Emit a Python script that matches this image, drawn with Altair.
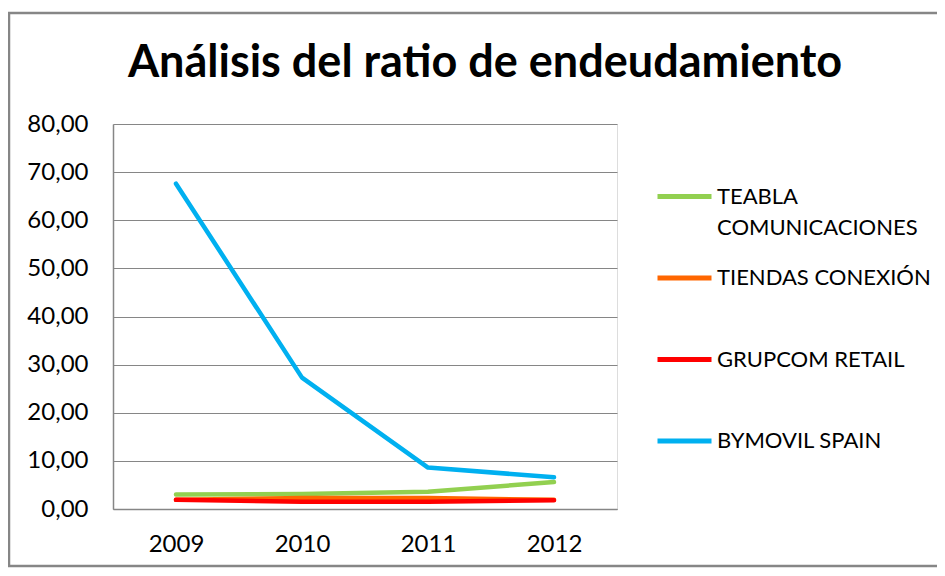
import altair as alt
import pandas as pd

title_text = "Análisis del ratio de endeudamiento"
years = ["2009", "2010", "2011", "2012"]
series = ["TEABLA COMUNICACIONES", "TIENDAS CONEXIÓN", "GRUPCOM RETAIL", "BYMOVIL SPAIN"]
teabla = [3.0, 3.1, 3.6, 5.6]
tiendas = [1.9, 2.3, 2.3, 1.9]
grupcom = [1.9, 1.5, 1.5, 1.8]
bymovil = [67.6, 27.3, 8.6, 6.6]
colors = ["#92D050", "#FF6600", "#FF0000", "#00B0F0"]

rows = []
for name, vals in zip(series, [teabla, tiendas, grupcom, bymovil]):
    for y, v in zip(years, vals):
        rows.append({"year": y, "value": v, "serie": name, "ord": series.index(name)})
df = pd.DataFrame(rows)

FONT = "Lato"

lines = alt.Chart(df).mark_line(strokeWidth=4.5, strokeCap="round", strokeJoin="round").encode(
    x=alt.X("year:O", scale=alt.Scale(type="point", padding=0.5),
            axis=alt.Axis(title=None, labelAngle=0, labelFontSize=24, labelFont=FONT,
                          labelColor="#000000", labelPadding=23, ticks=False,
                          domainColor="#868686", domainWidth=1.5)),
    y=alt.Y("value:Q", scale=alt.Scale(domain=[0, 80]),
            axis=alt.Axis(title=None, values=list(range(0, 81, 10)), labelFontSize=24,
                          labelFont=FONT, labelColor="#000000", labelPadding=25, ticks=False,
                          labelExpr="replace(format(datum.value, '.2f'), '.', ',')",
                          gridColor="#868686", gridWidth=1.2, domainColor="#868686",
                          domainWidth=1.5)),
    color=alt.Color("serie:N", scale=alt.Scale(domain=series, range=colors),
                    legend=alt.Legend(title=None, orient="none", legendX=542, legendY=43,
                                      symbolType="stroke", symbolSize=2916,
                                      symbolStrokeWidth=5, labelFontSize=22, labelFont=FONT,
                                      labelColor="#000000", rowPadding=9.5, labelOffset=3,
                                      labelLimit=400,
                                      labelExpr="datum.label == 'TEABLA COMUNICACIONES' ? ['TEABLA', 'COMUNICACIONES'] : [datum.label, '']")),
    order=alt.Order("ord:Q"),
    detail="serie:N",
)

border = alt.Chart(pd.DataFrame({"a": [0]})).mark_rect(
    fill=None, stroke="#868686", strokeWidth=2.5, clip=False
).encode(x=alt.value(-104), x2=alt.value(860), y=alt.value(-111), y2=alt.value(442))

title = alt.Chart(pd.DataFrame({"t": [title_text]})).mark_text(
    font=FONT, fontSize=45, fontWeight="bold", color="#000000",
    align="center", baseline="alphabetic", clip=False
).encode(text="t:N", x=alt.value(372), y=alt.value(-47))

chart = alt.layer(border, lines, title).properties(
    width=504, height=385,
    autosize=alt.AutoSizeParams(type="none"),
    padding={"left": 105, "top": 116, "right": 320, "bottom": 59},
).configure_view(stroke=None).configure(
    background="white",
    style={"guide-label": {"lineHeight": 31}},
)

chart.save("out.html", embed_options={"renderer": "svg", "actions": False})
